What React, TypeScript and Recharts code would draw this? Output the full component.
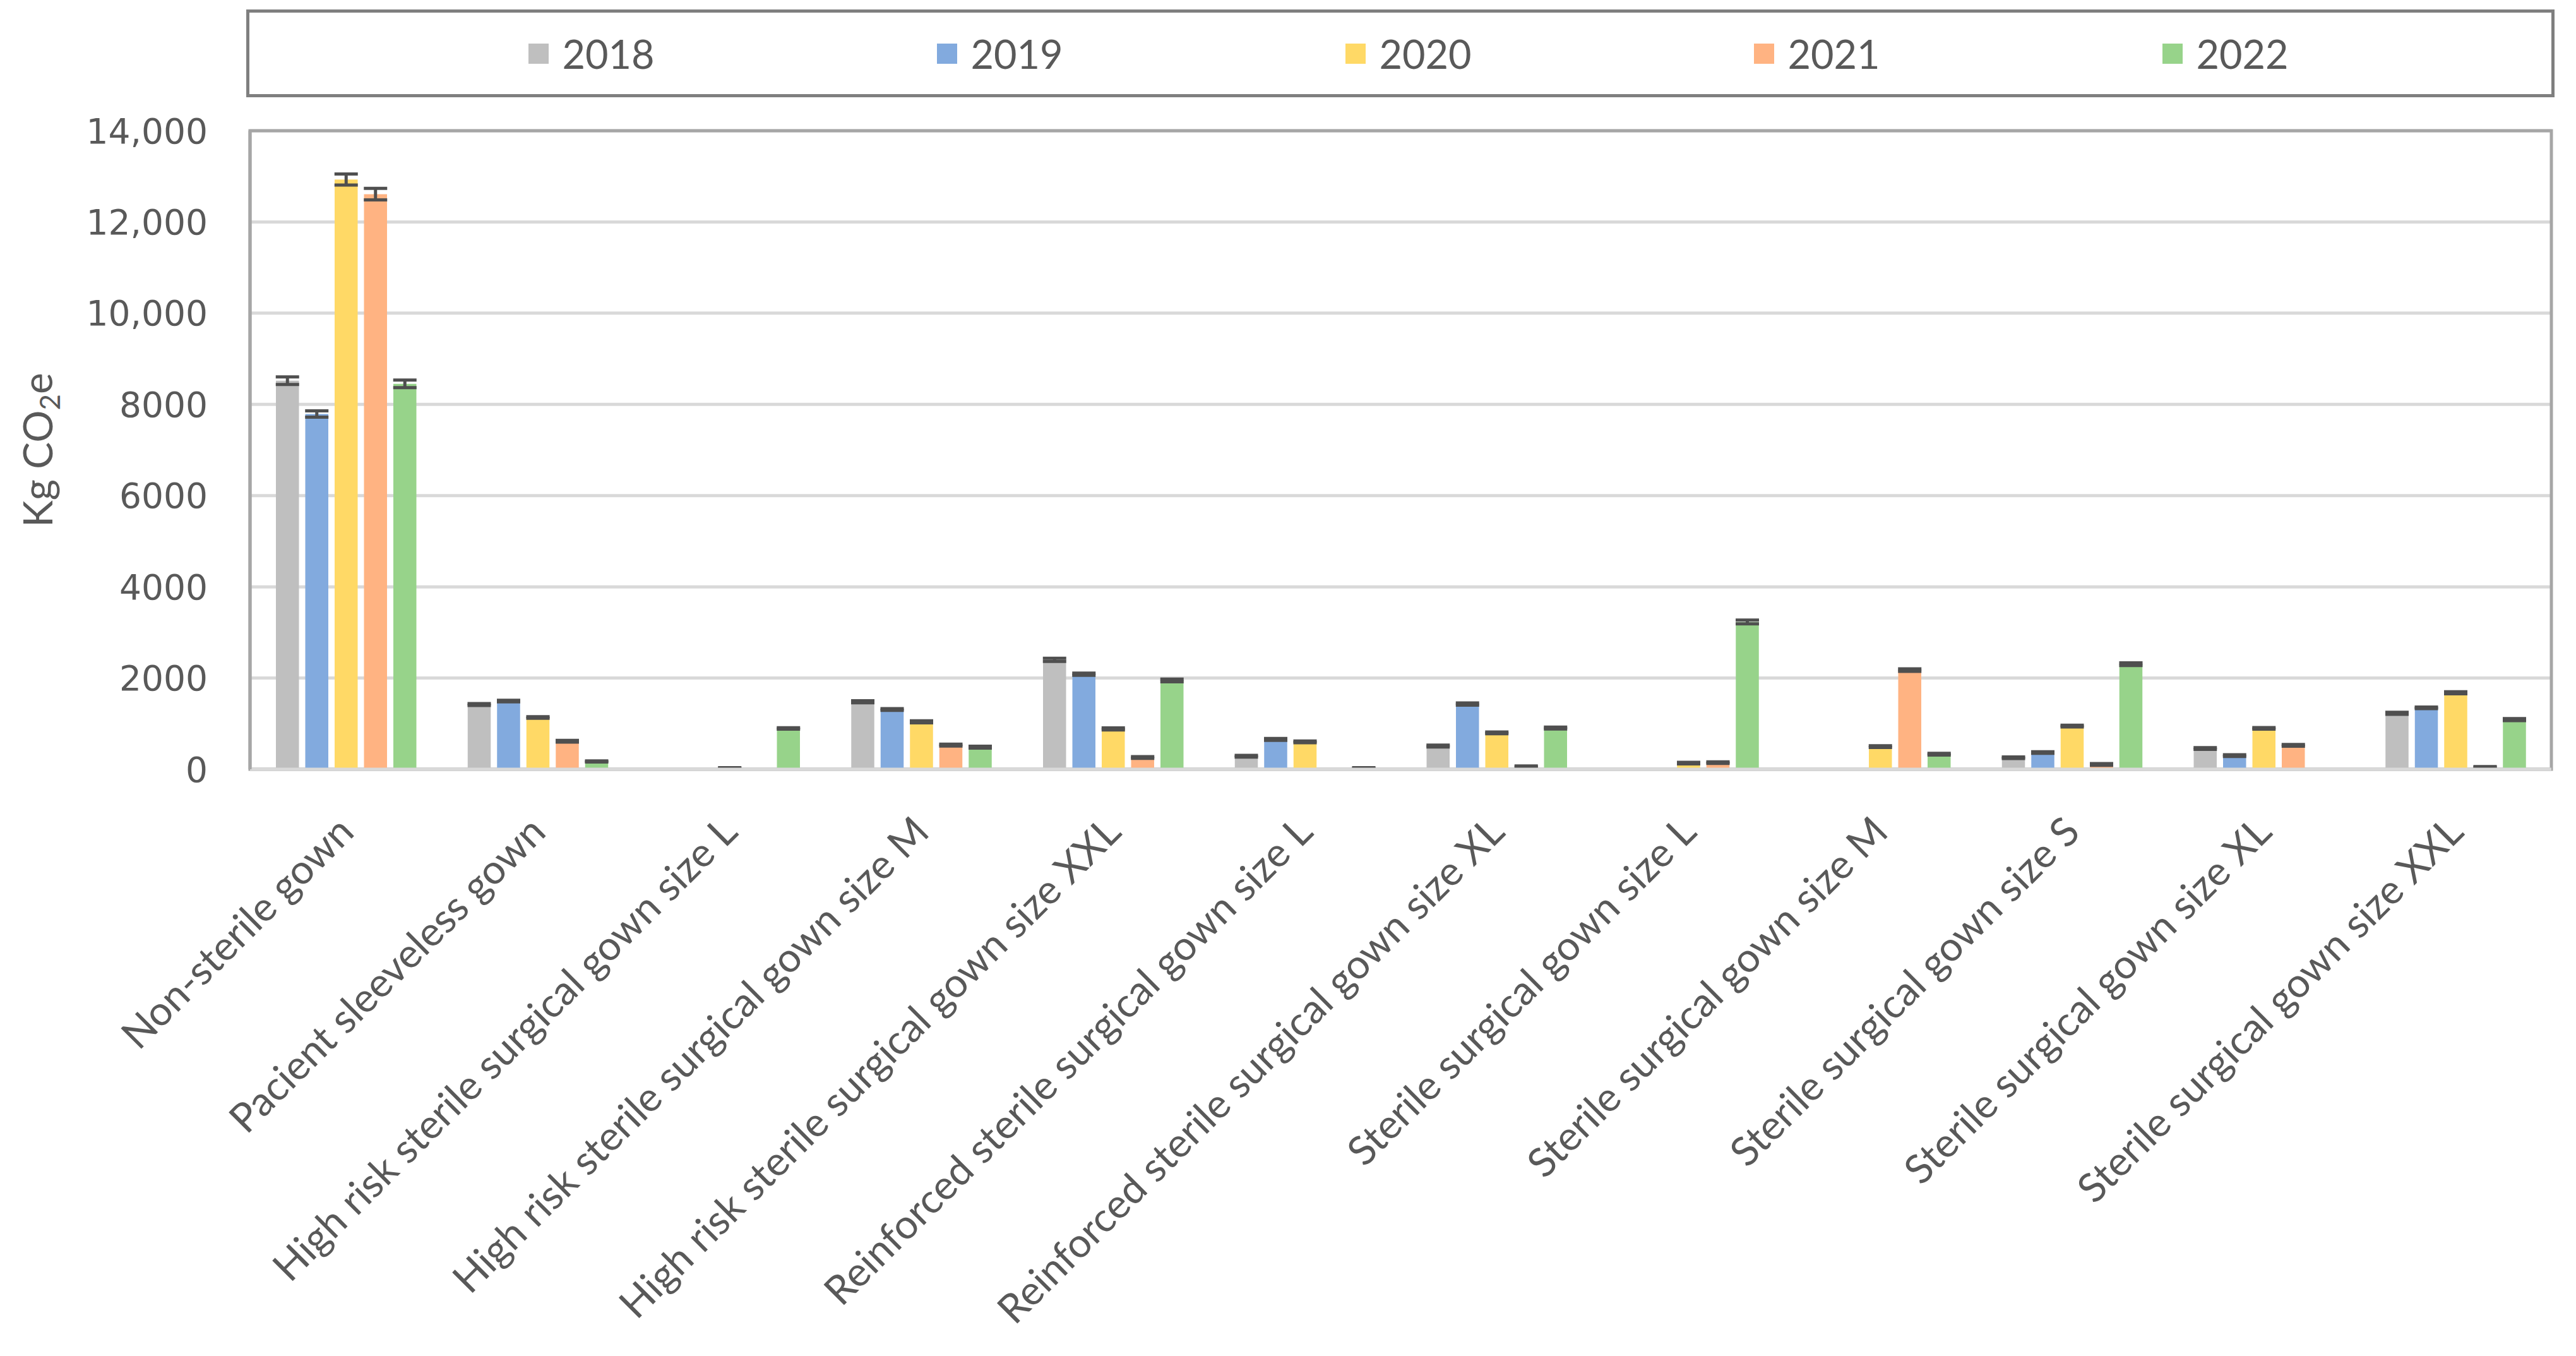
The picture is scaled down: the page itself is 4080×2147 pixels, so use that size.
import React from "react";
import {
  BarChart,
  Bar,
  XAxis,
  YAxis,
  CartesianGrid,
  ReferenceArea,
  ErrorBar,
} from "recharts";

// categories on the x axis
const categories = [
  "Non-sterile gown",
  "Pacient sleeveless gown",
  "High risk sterile surgical gown size L",
  "High risk sterile surgical gown size M",
  "High risk sterile surgical gown size XXL",
  "Reinforced sterile surgical gown size L",
  "Reinforced sterile surgical gown size XL",
  "Sterile surgical gown size L",
  "Sterile surgical gown size M",
  "Sterile surgical gown size S",
  "Sterile surgical gown size XL",
  "Sterile surgical gown size XXL",
];

const years = ["2018", "2019", "2020", "2021", "2022"];

// kg CO2e per year
const values2018 = [8520, 1420, 0, 1480, 2400, 286, 508, 0, 0, 253, 455, 1228];
const values2019 = [7790, 1495, 0, 1310, 2085, 655, 1430, 0, 0, 368, 299, 1347];
const values2020 = [12930, 1135, 25, 1040, 885, 600, 798, 135, 497, 947, 897, 1678];
const values2021 = [12610, 615, 0, 530, 258, 0, 60, 145, 2175, 106, 524, 50];
const values2022 = [8450, 170, 895, 485, 1947, 25, 904, 3230, 331, 2303, 0, 1090];

// error bar half-ranges
const err2018 = [84, 20, 0, 23, 35, 18, 20, 0, 0, 18, 20, 22];
const err2019 = [70, 18, 0, 20, 25, 20, 25, 0, 0, 18, 18, 18];
const err2020 = [122, 18, 8, 22, 22, 18, 20, 18, 18, 20, 18, 22];
const err2021 = [127, 18, 0, 20, 20, 0, 12, 18, 28, 18, 18, 10];
const err2022 = [84, 12, 16, 20, 30, 8, 22, 40, 18, 30, 0, 22];

const yTicks = [0, 2000, 4000, 6000, 8000, 10000, 12000, 14000];

const colors = ["#BFBFBF", "#82AADE", "#FFD966", "#FFB382", "#97D38A"];

const seriesValues = [values2018, values2019, values2020, values2021, values2022];
const seriesErrors = [err2018, err2019, err2020, err2021, err2022];

const data = categories.map((name, i) => {
  const row: Record<string, string | number> = { name };
  years.forEach((y, s) => {
    row["v" + y] = seriesValues[s][i];
    row["e" + y] = seriesErrors[s][i];
  });
  return row;
});

const textColor = "#595959";
const labelFont = "Lato, 'Open Sans', sans-serif";

const CategoryTick = (props: any) => {
  const { x, y, payload } = props;
  const ty = y + 87;
  return (
    <text
      x={x}
      y={ty}
      dy="0.35em"
      textAnchor="end"
      transform={`rotate(-45, ${x}, ${ty})`}
      fill={textColor}
      fontSize={64}
      fontFamily={labelFont}
    >
      {payload.value}
    </text>
  );
};

const YTitle = (props: any) => {
  const { viewBox } = props;
  const x = viewBox.x + 75;
  const y = viewBox.y + viewBox.height / 2;
  return (
    <text
      x={x}
      y={y}
      textAnchor="middle"
      transform={`rotate(-90, ${x}, ${y})`}
      fill={textColor}
      fontSize={64}
      fontFamily={labelFont}
    >
      <tspan>Kg CO</tspan>
      <tspan dy={12} fontSize={44}>
        2
      </tspan>
      <tspan dy={-12}>e</tspan>
    </text>
  );
};

const formatTick = (v: number) =>
  v >= 10000 ? v.toLocaleString("en-US") : String(v);

const App: React.FC = () => {
  return (
    <div style={{ position: "relative", width: 4064, height: 2131 }}>
      {/* legend box */}
      <div
        style={{
          position: "absolute",
          left: 382,
          top: 7,
          width: 3656,
          height: 139,
          boxSizing: "border-box",
          border: "5px solid #7F7F7F",
          paddingLeft: 26,
          display: "flex",
          justifyContent: "center",
          alignItems: "center",
        }}
      >
        {years.map((y, i) => (
          <div
            key={y}
            style={{
              width: 647,
              display: "flex",
              justifyContent: "center",
              alignItems: "center",
            }}
          >
            <span
              style={{
                width: 32,
                height: 32,
                background: colors[i],
                display: "inline-block",
                marginRight: 21,
              }}
            />
            <span
              style={{
                fontFamily: labelFont,
                fontSize: 63,
                color: textColor,
                lineHeight: 1,
              }}
            >
              {y}
            </span>
          </div>
        ))}
      </div>

      <BarChart
        width={4064}
        height={2130}
        data={data}
        margin={{ top: 199, right: 31, bottom: 20, left: 0 }}
        barSize={36.5}
        barGap={10}
      >
        <CartesianGrid vertical={false} stroke="#D9D9D9" strokeWidth={5} />
        <ReferenceArea
          y1={0}
          y2={14000}
          fill="none"
          stroke="#A6A6A6"
          strokeWidth={5}
          ifOverflow="visible"
        />
        <XAxis
          dataKey="name"
          interval={0}
          height={900}
          tickLine={false}
          tickSize={0}
          tickMargin={0}
          axisLine={{ stroke: "#D9D9D9", strokeWidth: 5 }}
          tick={<CategoryTick />}
        />
        <YAxis
          width={388}
          domain={[0, 14000]}
          ticks={yTicks}
          tickFormatter={formatTick}
          tickLine={false}
          tickSize={0}
          tickMargin={67}
          axisLine={{ stroke: "#A6A6A6", strokeWidth: 5 }}
          tick={{
            fill: textColor,
            fontSize: 55,
            fontFamily: "'DejaVu Sans', Verdana, sans-serif",
          }}
          label={<YTitle />}
        />
        {years.map((y, i) => (
          <Bar
            key={y}
            dataKey={"v" + y}
            name={y}
            fill={colors[i]}
            isAnimationActive={false}
          >
            <ErrorBar
              dataKey={"e" + y}
              width={18.5}
              stroke="#4F4F4F"
              strokeWidth={5}
            />
          </Bar>
        ))}
      </BarChart>
    </div>
  );
};

export default App;
